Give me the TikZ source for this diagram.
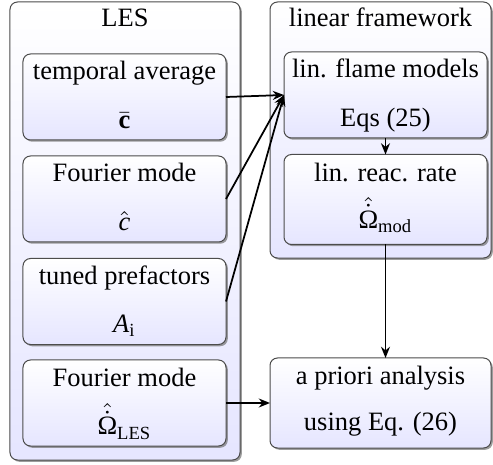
\documentclass[tikz,border=0pt]{standalone}
\usepackage{fontspec}
\setmainfont{Liberation Serif}
\usetikzlibrary{shadows,calc,arrows.meta}
\begin{document}
\begin{tikzpicture}[x=0.4pt,y=-0.4pt,
  panel/.style={draw=black!70, line width=0.4pt, rounded corners=3pt, inner sep=0pt, outer sep=0pt,
    top color=white, bottom color=blue!10,
    drop shadow={shadow xshift=0.7pt, shadow yshift=-0.7pt, fill=black!55, opacity=0.7}},
  stepbox/.style={panel, minimum width=81.2pt, minimum height=34.4pt},
  lbl/.style={anchor=base, inner sep=0pt, font=\fontsize{10.6pt}{13pt}\selectfont},
  conn/.style={line width=0.7pt, -{Stealth[length=4.5pt,width=3.6pt]}}
]
\useasboundingbox (0,0) rectangle (493,465);
% outer panels
\node[panel, minimum width=92pt, minimum height=183.2pt] (les) at (125,231) {};
\node[panel, minimum width=88.4pt, minimum height=102.4pt] (lin) at (380.5,130) {};
% LES boxes
\node[stepbox] (avg) at (124.5,97) {};
\node[stepbox] (fc) at (124.5,199) {};
\node[stepbox] (pref) at (124.5,301.5) {};
\node[stepbox] (fom) at (124.5,403) {};
% linear framework boxes
\node[stepbox] (flame) at (385.5,95) {};
\node[stepbox, minimum height=36pt] (rate) at (385.5,199.5) {};
% a priori
\node[panel, minimum width=88.4pt, minimum height=36pt] (apri) at (380.5,403) {};
% titles
\node[lbl] (lesT) at ($(les.north)+(0,25)$) {LES};
\node[lbl] (linT) at ($(lin.north)+(0,25)$) {linear framework};
% labels
\node[lbl] (avg1) at ($(avg.north)+(0,26)$) {temporal average};
\node[lbl] (avg2) at ($(avg.north)+(0,75)$) {$\bar{\mathbf{c}}$};
\node[lbl] (fc1) at ($(fc.north)+(0,26)$) {Fourier mode};
\node[lbl] (fc2) at ($(fc.north)+(0,75)$) {$\hat{\mathit{c}}$};
\node[lbl] (pref1) at ($(pref.north)+(0,26)$) {tuned prefactors};
\node[lbl] (pref2) at ($(pref.north)+(0,74)$) {$\mathit{A}_\mathrm{i}$};
\node[lbl] (fom1) at ($(fom.north)+(0,26)$) {Fourier mode};
\node[lbl] (fom2) at ($(fom.north)+(0,75)$) {$\hat{\dot{\mbox{Ω}}}_\mathrm{LES}$};
\node[lbl] (flame1) at ($(flame.north)+(0,26)$) {lin. flame models};
\node[lbl] (flame2) at ($(flame.north)+(0,75)$) {Eqs (25)};
\node[lbl] (rate1) at ($(rate.north)+(0,27)$) {lin. reac. rate};
\node[lbl] (rate2) at ($(rate.north)+(0,74)$) {$\hat{\dot{\mbox{Ω}}}_\mathrm{mod}$};
\node[lbl] (apri1) at ($(apri.north)+(0,27)$) {a priori analysis};
\node[lbl] (apri2) at ($(apri.north)+(0,72)$) {using Eq. (26)};
% connectors
\draw[conn] (avg.east) -- (flame.west);
\draw[conn] (fc.east) -- (flame.west);
\draw[conn] (pref.east) -- (flame.west);
\draw[conn] (fom.east) -- (fom.east -| apri.west);
\draw[conn] (flame.south) -- (rate.north);
\draw[conn] (rate.south) -- (rate.south |- apri.north);
\end{tikzpicture}
\end{document}
